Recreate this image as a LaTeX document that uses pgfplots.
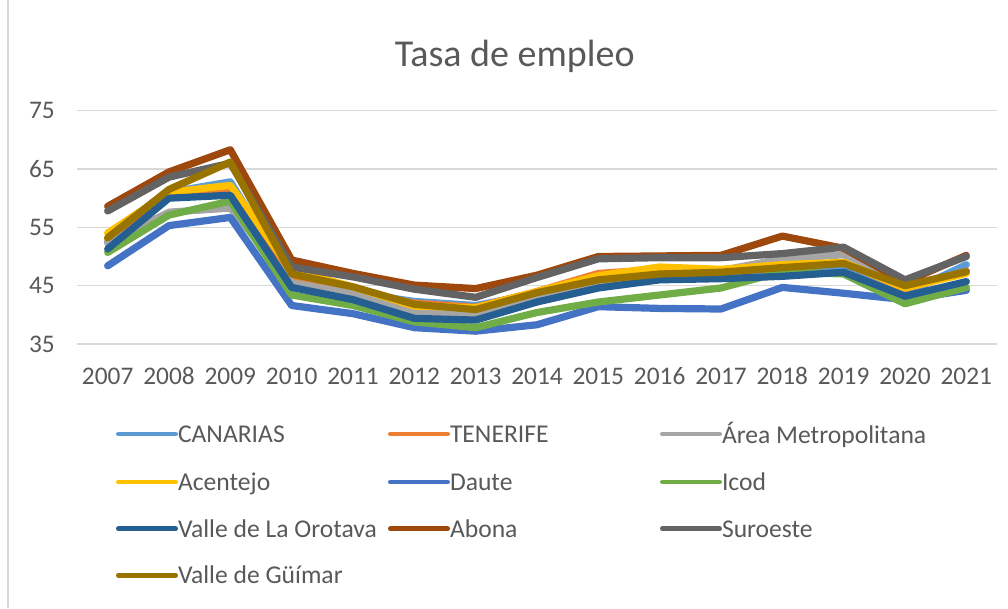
\documentclass[border=0pt]{standalone}
\usepackage{pgfplots}
\pgfplotsset{compat=1.18}
\usepackage{pgfplotstable}
\usepackage{fontspec}
\setmainfont{Carlito}
\definecolor{txt}{HTML}{595959}
\definecolor{gridc}{HTML}{D9D9D9}
\definecolor{cCA}{HTML}{5B9BD5}
\definecolor{cTF}{HTML}{ED7D31}
\definecolor{cAM}{HTML}{A5A5A5}
\definecolor{cAC}{HTML}{FFC000}
\definecolor{cDA}{HTML}{4472C4}
\definecolor{cIC}{HTML}{70AD47}
\definecolor{cVO}{HTML}{255E91}
\definecolor{cAB}{HTML}{9E480E}
\definecolor{cSU}{HTML}{636363}
\definecolor{cVG}{HTML}{997300}

\pgfplotstableread{
year CA   TF   AM   AC   DA   IC   VO   AB   SU   VG
2007 52.5 53.0 52.3 54.0 48.4 50.7 51.3 58.6 57.8 53.2
2008 61.0 60.5 57.6 61.0 55.3 57.1 60.0 64.5 63.6 61.5
2009 62.8 61.4 58.3 62.2 56.7 59.5 60.5 68.3 66.0 66.2
2010 46.0 46.2 45.5 47.6 41.6 43.4 44.7 49.4 48.2 47.0
2011 43.8 44.0 43.6 44.8 40.2 41.6 42.6 47.1 46.5 44.8
2012 42.3 42.0 40.6 41.5 37.8 38.8 39.4 45.1 44.4 41.8
2013 41.6 41.3 40.2 41.2 37.2 37.8 39.1 44.5 43.0 40.9
2014 43.6 44.0 43.3 44.0 38.3 40.4 42.2 46.8 46.4 43.8
2015 45.5 47.1 45.3 46.7 41.4 42.2 44.6 50.0 49.6 46.0
2016 46.2 47.8 46.3 48.2 41.1 43.4 46.0 50.1 49.8 47.0
2017 46.8 47.4 47.6 47.8 41.0 44.6 46.2 50.2 49.8 47.3
2018 47.2 48.0 49.6 48.6 44.7 47.4 46.6 53.5 50.5 48.1
2019 48.2 49.0 50.3 49.0 43.7 47.0 47.3 51.4 51.6 48.8
2020 43.6 44.5 44.6 44.6 42.6 41.9 43.2 45.6 46.0 45.0
2021 48.6 47.5 47.4 47.1 44.2 44.7 45.7 50.2 50.0 47.4
}\datatable

\begin{document}
\begin{tikzpicture}[x=1pt,y=1pt]
\path[use as bounding box] (0,0) rectangle (756,456);
\draw[gridc, line width=0.9pt] (6,0) -- (6,456);
\node[text=txt, font=\fontsize{28.5}{32}\selectfont] at (386,414) {Tasa de empleo};
\begin{axis}[
  at={(57.75pt,198pt)}, anchor=south west,
  scale only axis, width=690pt, height=175pt,
  xmin=2006.5, xmax=2021.5, ymin=35, ymax=75,
  xtick={2007,2008,...,2021}, ytick={35,45,55,65,75},
  axis line style={draw=none}, major tick length=0pt,
  ymajorgrids, grid style={gridc, line width=0.9pt},
  /pgf/number format/assume math mode=true,
  /pgf/number format/1000 sep={},
  tick label style={font=\fontsize{19}{22}\selectfont, text=txt},
  xticklabel style={anchor=base, yshift=-30pt, inner sep=0pt},
  yticklabel style={anchor=east, xshift=-16.5pt, inner sep=0pt},
  legend columns=3,
  legend cell align=left,
  legend style={draw=none, fill=none, inner sep=0pt, outer sep=0pt,
    at={(0.0424,-0.3357)}, anchor=north west,
    nodes={inner sep=0pt, text=txt, font=\fontsize{19.2}{22}\selectfont},
    row sep=19.5pt, column sep=0pt},
  legend image code/.code={\draw[#1, line width=3.5pt, line cap=round] (1.75pt,0pt) -- (44.75pt,0pt); \path[draw=none,fill=none] (0pt,0pt) -- (42pt,0pt);},
  every axis plot/.append style={line width=5.4pt, line cap=round, line join=round, mark=none},
]
\addplot[cCA] table[x=year,y=CA] {\datatable};
\addlegendentry{\makebox[157.5pt][l]{\rule[-6pt]{0pt}{20pt}CANARIAS}}
\addplot[cTF] table[x=year,y=TF] {\datatable};
\addlegendentry{\makebox[157.5pt][l]{\rule[-6pt]{0pt}{20pt}TENERIFE}}
\addplot[cAM] table[x=year,y=AM] {\datatable};
\addlegendentry{\makebox[157.5pt][l]{\rule[-6pt]{0pt}{20pt}Área Metropolitana}}
\addplot[cAC] table[x=year,y=AC] {\datatable};
\addlegendentry{\makebox[157.5pt][l]{\rule[-6pt]{0pt}{20pt}Acentejo}}
\addplot[cDA] table[x=year,y=DA] {\datatable};
\addlegendentry{\makebox[157.5pt][l]{\rule[-6pt]{0pt}{20pt}Daute}}
\addplot[cIC] table[x=year,y=IC] {\datatable};
\addlegendentry{\makebox[157.5pt][l]{\rule[-6pt]{0pt}{20pt}Icod}}
\addplot[cVO] table[x=year,y=VO] {\datatable};
\addlegendentry{\makebox[157.5pt][l]{\rule[-6pt]{0pt}{20pt}Valle de La Orotava}}
\addplot[cAB] table[x=year,y=AB] {\datatable};
\addlegendentry{\makebox[157.5pt][l]{\rule[-6pt]{0pt}{20pt}Abona}}
\addplot[cSU] table[x=year,y=SU] {\datatable};
\addlegendentry{\makebox[157.5pt][l]{\rule[-6pt]{0pt}{20pt}Suroeste}}
\addplot[cVG] table[x=year,y=VG] {\datatable};
\addlegendentry{\makebox[157.5pt][l]{\rule[-6pt]{0pt}{20pt}Valle de Güímar}}
\end{axis}
\end{tikzpicture}
\end{document}
